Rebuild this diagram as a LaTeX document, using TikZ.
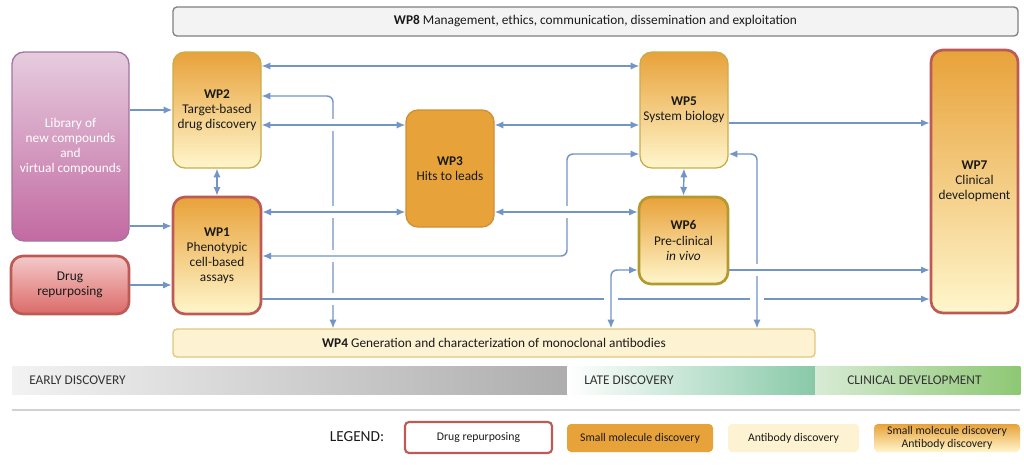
\documentclass[tikz,border=0pt]{standalone}
\usepackage{fontspec}
\setmainfont{Carlito}
\usetikzlibrary{arrows.meta}
\definecolor{arrowc}{HTML}{7394C6}
\definecolor{orT}{HTML}{E8A23A}
\definecolor{paleB}{HTML}{FFF6CC}
\definecolor{goldB}{HTML}{C9AD4C}
\definecolor{goldD}{HTML}{B49A2E}
\definecolor{redB}{HTML}{BE5A55}
\definecolor{wp3B}{HTML}{CF8F35}
\definecolor{libT}{HTML}{E6CCDE}
\definecolor{libB}{HTML}{C26AA2}
\definecolor{libD}{HTML}{A3739F}
\definecolor{drT}{HTML}{F4CACA}
\definecolor{drB}{HTML}{DB6A68}
\definecolor{wp4F}{HTML}{FDF2D2}
\definecolor{wp4D}{HTML}{E2C67C}
\definecolor{wp8F}{HTML}{F3F3F3}
\definecolor{wp8D}{HTML}{808080}
\definecolor{txt}{HTML}{1A1A1A}
\newcommand\brkv[2]{\fill[white] (#1-4,#2-6) rectangle (#1+4,#2+6);}
\newcommand\brkh[2]{\fill[white] (#1-7,#2-4) rectangle (#1+7,#2+4);}
\begin{document}
\begin{tikzpicture}[x=0.75pt,y=-0.75pt,
  box/.style={rounded corners=9pt, inner sep=0pt, align=center, text=txt,
    font=\fontsize{10}{11.3}\selectfont, line width=1pt},
  grad/.style={top color=orT, bottom color=paleB},
  thickb/.style={line width=2pt},
  arr/.style={draw=arrowc, line width=1.1pt, -{Latex[length=6.5pt,width=5.5pt]}},
  arr2/.style={draw=arrowc, line width=1.1pt, {Latex[length=6.5pt,width=5.5pt]}-{Latex[length=6.5pt,width=5.5pt]}},
  route/.style={rounded corners=4.5pt},
  phase/.style={inner sep=0pt, minimum height=21pt, text=black!80, font=\fontsize{10}{12}\selectfont},
  leg/.style={inner sep=0pt, rounded corners=3pt, minimum height=21pt, align=center, text=txt, font=\fontsize{8.8}{9.6}\selectfont}
]
\useasboundingbox (0,0) rectangle (1024,464);

% WP8
\node[box, rounded corners=3pt, draw=wp8D, fill=wp8F, minimum width=633.75pt, minimum height=21.75pt] (wp8) at (595.5,21.5)
  {\textbf{WP8} Management, ethics, communication, dissemination and exploitation};

% left inputs
\node[box, draw=libD, top color=libT, bottom color=libB, minimum width=87.75pt, minimum height=141.75pt, text=white] (lib) at (70.5,146.5)
  {Library of\\new compounds\\and\\virtual compounds};
\node[box, thickb, draw=redB, top color=drT, bottom color=drB, minimum width=88.5pt, minimum height=43.5pt] (drug) at (70,285)
  {Drug\\repurposing};

% WPs
\node[box, draw=goldB, grad, minimum width=66pt, minimum height=87pt] (wp2) at (217,110)
  {\textbf{WP2}\\Target-based\\drug discovery};
\node[box, thickb, draw=redB, grad, minimum width=66pt, minimum height=87.75pt] (wp1) at (217,255.5)
  {\textbf{WP1}\\Phenotypic\\cell-based\\assays};
\node[box, draw=wp3B, fill=orT, minimum width=66pt, minimum height=87.75pt] (wp3) at (450,168.5)
  {\textbf{WP3}\\Hits to leads};
\node[box, draw=goldB, grad, minimum width=66pt, minimum height=87pt] (wp5) at (684,110)
  {\textbf{WP5}\\System biology};
\node[box, thickb, draw=goldD, grad, minimum width=66.75pt, minimum height=65.25pt] (wp6) at (683.5,240.5)
  {\textbf{WP6}\\Pre-clinical\\\textit{in vivo}};
\node[box, thickb, draw=redB, grad, minimum width=65.25pt, minimum height=197.25pt] (wp7) at (974.5,181.5)
  {\textbf{WP7}\\Clinical\\development};
\node[box, rounded corners=3pt, draw=wp4D, fill=wp4F, minimum width=481.5pt, minimum height=21pt] (wp4) at (494,343)
  {\textbf{WP4} Generation and characterization of monoclonal antibodies};

% connectors with bridges (broken lines first)
\draw[arr2, route] (wp2.east |- 0,96) -| (wp4.north -| 333,0);
\brkv{333}{125}\brkv{333}{212}\brkv{333}{256}\brkv{333}{299}
\draw[arr2, route] (wp1.east |- 0,256) -| (567,205) |- (wp5.west |- 0,154);
\brkv{567}{212}
\draw[arr] (wp1.east |- 0,299) -- (wp7.west |- 0,299);
\brkh{611}{299}\brkh{757}{299}
\draw[arr2, route] (wp5.east |- 0,154) -| (wp4.north -| 757,0);
\brkv{757}{270}
\draw[arr2, route] (wp6.west |- 0,270) -| (wp4.north -| 611,0);

\draw[arr] (lib.east |- 0,110) -- (wp2.west |- 0,110);
\draw[arr] (lib.east |- 0,226) -- (wp1.west |- 0,226);
\draw[arr] (drug.east |- 0,285) -- (wp1.west |- 0,285);
\draw[arr2] (wp2.south) -- (wp1.north);
\draw[arr2] (wp2.east |- 0,66) -- (wp5.west |- 0,66);
\draw[arr2] (wp2.east |- 0,125) -- (wp3.west |- 0,125);
\draw[arr2] (wp3.east |- 0,125) -- (wp5.west |- 0,125);
\draw[arr2] (wp1.east |- 0,212) -- (wp3.west |- 0,212);
\draw[arr2] (wp3.east |- 0,212) -- (wp6.west |- 0,212);
\draw[arr] (wp5.east |- 0,123) -- (wp7.west |- 0,123);
\draw[arr] (wp6.east |- 0,270) -- (wp7.west |- 0,270);
\draw[arr2] (wp5.south) -- (wp6.north);

% phase bar
\node[phase, left color=black!5, right color=black!32, minimum width=416.25pt, anchor=west] (early) at (12,380) {};
\node[phase, left color=white, right color={rgb,255:red,136;green,201;blue,168}, minimum width=186pt, anchor=west] (late) at (567,380) {};
\node[phase, left color={rgb,255:red,216;green,235;blue,213}, right color={rgb,255:red,141;green,200;blue,115}, minimum width=153.75pt, anchor=west] (clin) at (815,380) {};
\node[phase, anchor=west] (earlyt) at (29,380) {EARLY DISCOVERY};
\node[phase, anchor=west] (latet) at (584,380) {LATE DISCOVERY};
\node[phase, anchor=west] (clint) at (847,380) {CLINICAL DEVELOPMENT};

\draw[black!18, line width=1.1pt] (12,410) -- (1020,410);

% legend
\node[text=txt, font=\fontsize{11.5}{13}\selectfont] (legt) at (357,437) {LEGEND:};
\node[leg, draw=redB, line width=1.6pt, fill=white, minimum width=110.25pt, minimum height=23.25pt] (l1) at (478.5,437.5) {Drug repurposing};
\node[leg, fill=orT, minimum width=109.5pt] (l2) at (640,438) {Small molecule discovery};
\node[leg, fill=wp4F, minimum width=98.25pt] (l3) at (793.5,438) {Antibody discovery};
\node[leg, top color=orT, bottom color=paleB, minimum width=109.5pt] (l4) at (947,438) {Small molecule discovery\\Antibody discovery};
\end{tikzpicture}
\end{document}
